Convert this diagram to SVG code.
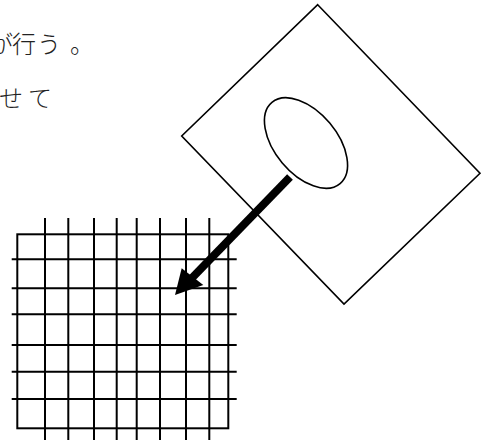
<svg xmlns="http://www.w3.org/2000/svg" width="494" height="445" viewBox="0 0 494 445">
<style>
.ln{stroke:#000;stroke-width:2;fill:none}
.sh{stroke:#000;stroke-width:1.6;fill:#fff}
.tx{font-family:"Noto Sans CJK JP","Noto Sans CJK SC",serif;font-size:24px;font-weight:300;fill:#222}
</style>
<rect width="494" height="445" fill="#fff"/>
<g id="text">
<text class="tx" x="-11 12 37 70" y="53">が行う。</text>
<text class="tx" x="-1 28" y="107">せて</text>
</g>
<g id="grid">
<rect class="ln" x="17.3" y="234.3" width="211" height="194"/>
<path class="ln" d="M45,218V440M68.3,218V440M94,218V440M116.7,218V440M136.7,218V440M160,218V440M186,218V440M209.3,218V440"/>
<path class="ln" d="M11.7,259.3H236.7M11.7,288.3H236.7M11.7,314.3H236.7M11.7,345H236.7M11.7,371.7H236.7M11.7,399H236.7"/>
</g>
<g id="card">
<polygon class="sh" points="317.7,4.7 480,173.3 344,304 181.7,136"/>
<ellipse class="sh" cx="306" cy="143" rx="53" ry="31" transform="rotate(50 306 143)"/>
</g>
<g id="connectors">
<line x1="290" y1="177" x2="190" y2="280" stroke="#000" stroke-width="8"/>
<polygon points="175,295 181.7,268.3 203.3,285" fill="#000"/>
</g>
</svg>
